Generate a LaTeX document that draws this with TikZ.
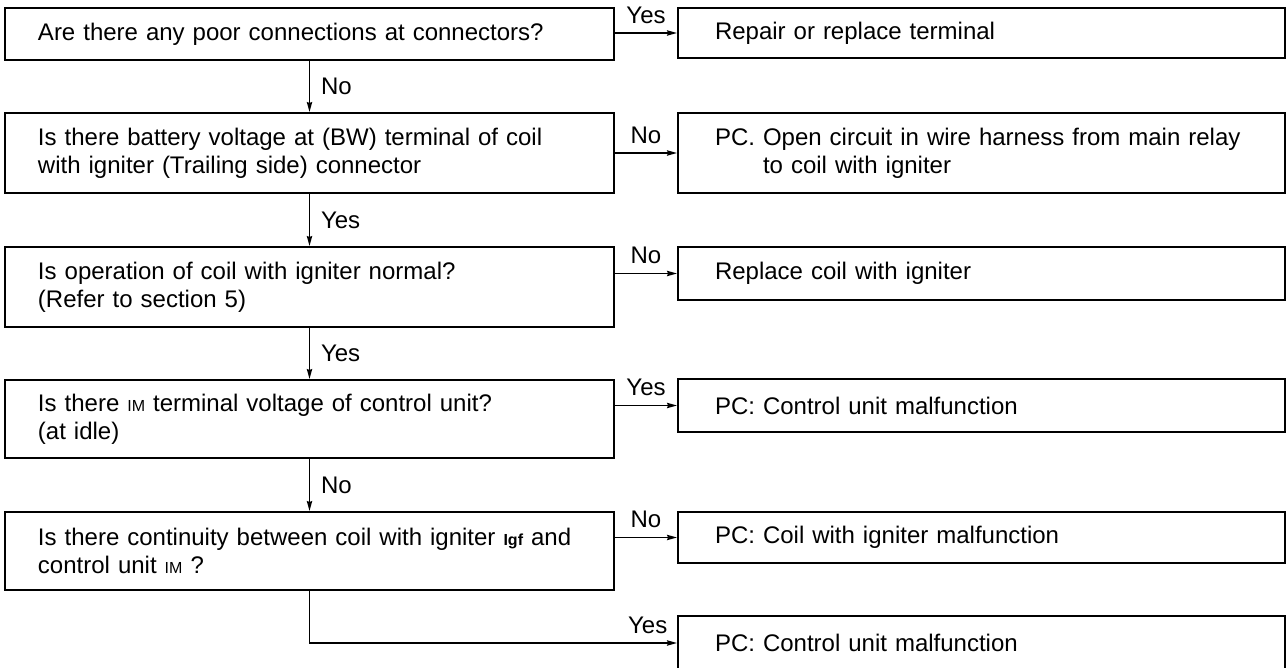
\documentclass[tikz,border=0pt]{standalone}
\usepackage{fontspec}
\setmainfont{Liberation Sans}
\usetikzlibrary{arrows.meta}
\begin{document}
\begin{tikzpicture}[>={Stealth[length=5pt,width=2.6pt,inset=0.5pt]}, x=0.5pt, y=-0.5pt, line width=0.9pt,
        font=\fontsize{12}{14}\selectfont,
        qbox/.style={draw, text width=271.5pt, inner xsep=16.5pt, align=left},
        abox/.style={draw, text width=266.5pt, inner xsep=18.5pt, align=left}]
                \useasboundingbox (0,0) rectangle (1287,668);
                \clip (0,0) rectangle (1287,668);
                \node[qbox, minimum height=26pt] (q1) at (309.5,34) {Are there any poor connections at connectors?};
                \node[abox, minimum height=25pt] (a1) at (981.5,33) {Repair or replace terminal};
                \node[qbox, minimum height=40pt] (q2) at (309.5,153) {Is there battery voltage at (BW) terminal of coil\\with igniter (Trailing side) connector};
                \node[abox, minimum height=40pt] (a2) at (981.5,153) {PC. Open circuit in wire harness from main relay\\\phantom{PC. }to coil with igniter};
                \node[qbox, minimum height=40pt] (q3) at (309.5,287) {Is operation of coil with igniter normal?\\(Refer to section 5)};
                \node[abox, minimum height=26.5pt] (a3) at (981.5,273.5) {Replace coil with igniter};
                \node[qbox, minimum height=39pt] (q4) at (309.5,419) {Is there {\footnotesize IM} terminal voltage of control unit?\\(at idle)};
                \node[abox, minimum height=26.5pt] (a4) at (981.5,405.5) {PC: Control unit malfunction};
                \node[qbox, minimum height=39pt] (q5) at (309.5,551) {Is there continuity between coil with igniter {\footnotesize\bfseries Igf} and\\control unit {\footnotesize IM} ?};
                \node[abox, minimum height=25.5pt] (a5) at (981.5,537.5) {PC: Coil with igniter malfunction};
                \node[abox, minimum height=27pt] (a6) at (981.5,643) {PC: Control unit malfunction};
                % down the left column
                \draw[->] (q1) -- node[right=2pt] {No} (q2);
                \draw[->] (q2) -- node[right=2pt] {Yes} (q3);
                \draw[->] (q3) -- node[right=2pt] {Yes} (q4);
                \draw[->] (q4) -- node[right=2pt] {No} (q5);
                % across to the results
                \draw[->] (q1.east |- a1.west) -- node[above=1pt] {Yes} (a1.west);
                \draw[->] (q2.east |- a2.west) -- node[above=1pt] {No} (a2.west);
                \draw[->] (q3.east |- a3.west) -- node[above=1pt] {No} (a3.west);
                \draw[->] (q4.east |- a4.west) -- node[above=1pt] {Yes} (a4.west);
                \draw[->] (q5.east |- a5.west) -- node[above=1pt] {No} (a5.west);
                \draw[->] (q5.south) |- node[above=1pt, pos=0.96] {Yes} (a6.west);
            \end{tikzpicture}
\end{document}
